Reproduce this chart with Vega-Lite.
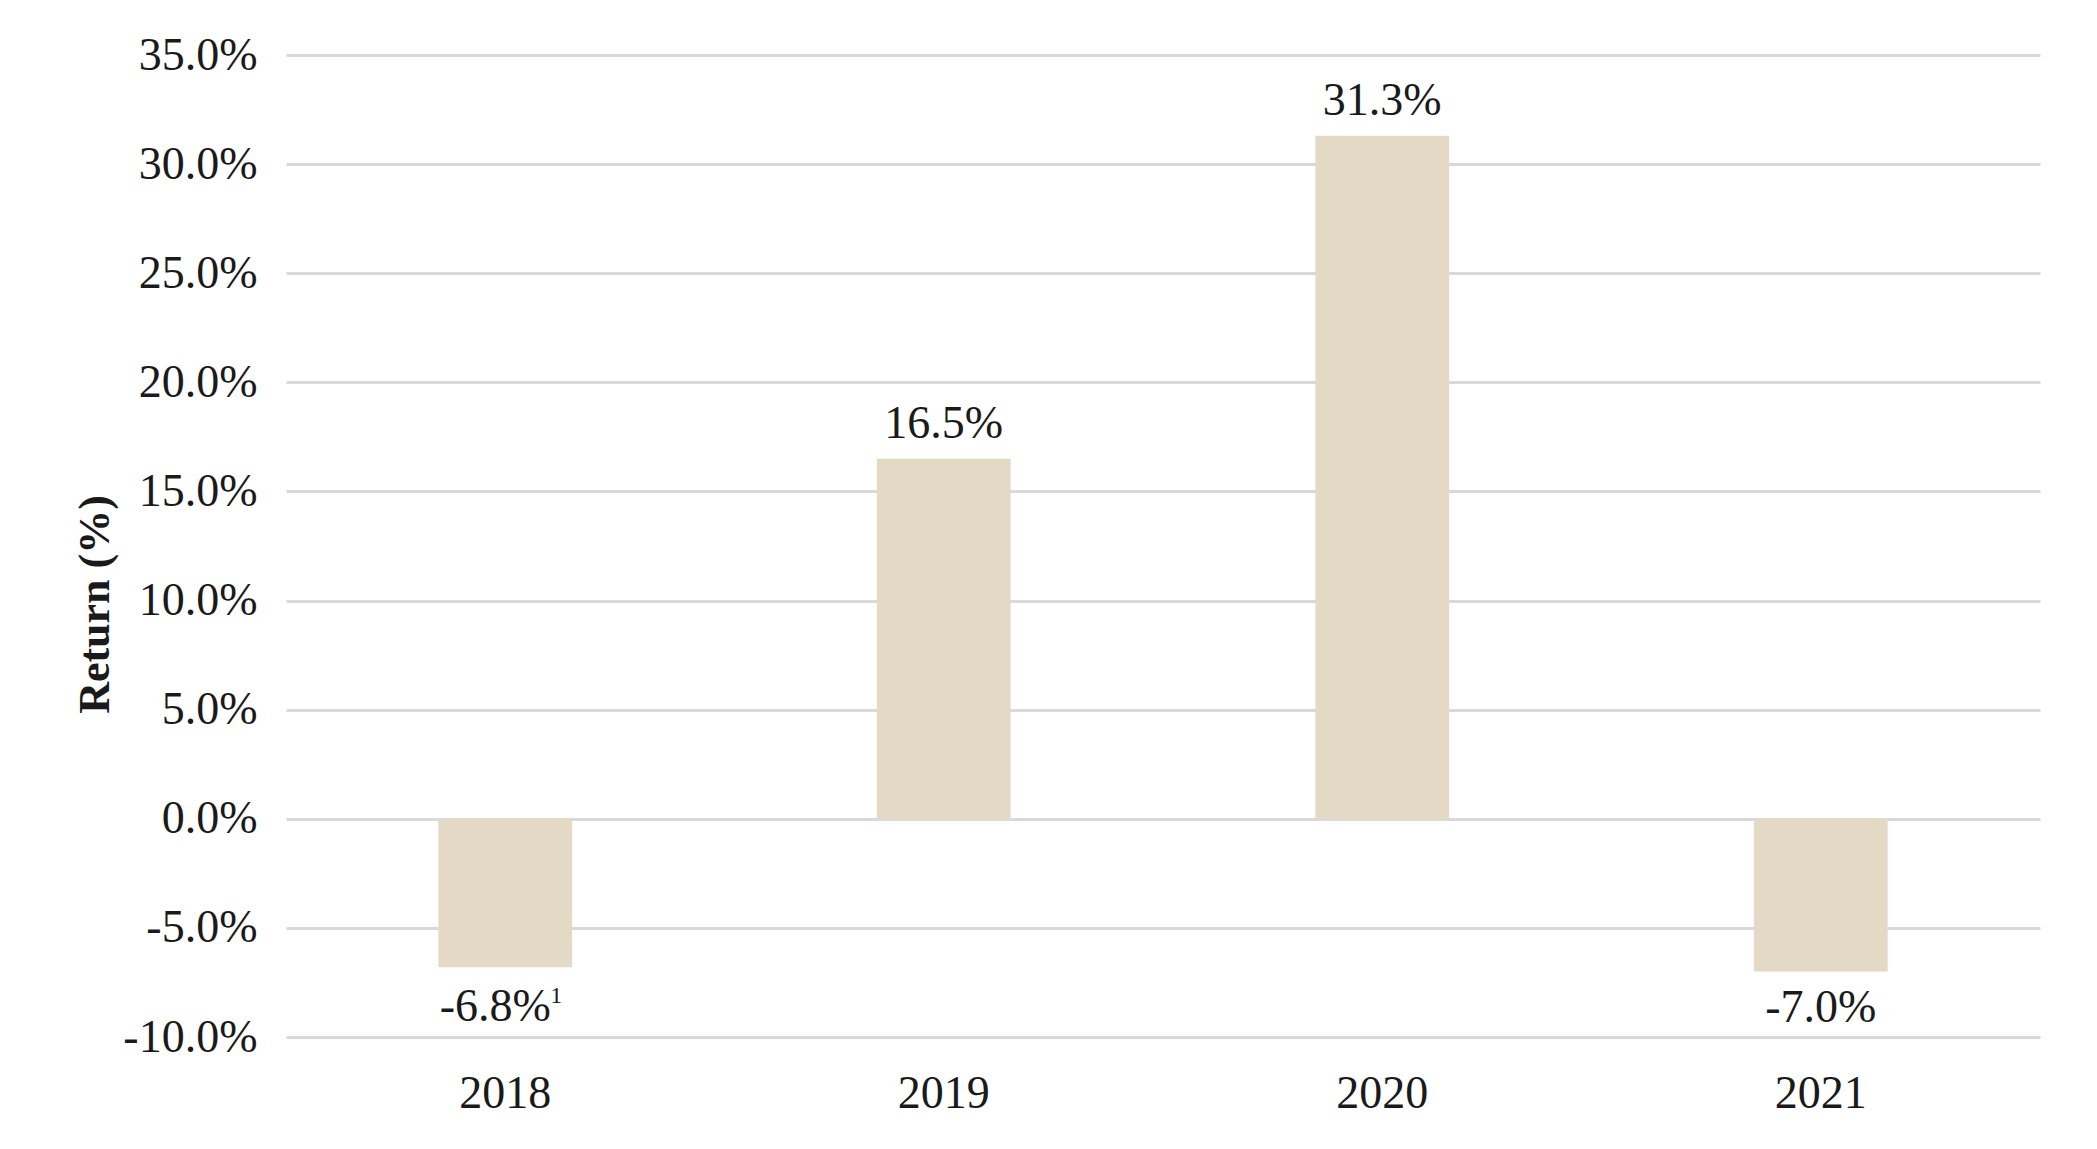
{
  "$schema": "https://vega.github.io/schema/vega-lite/v6.json",
  "autosize": {"type": "none"},
  "width": 1754,
  "height": 982,
  "padding": {"left": 286, "top": 55, "right": 57, "bottom": 112},
  "background": "white",
  "data": {"values": [
    {"year": "2018", "ret": -6.8, "label": "-6.8%", "note": "1"},
    {"year": "2019", "ret": 16.5, "label": "16.5%", "note": ""},
    {"year": "2020", "ret": 31.3, "label": "31.3%", "note": ""},
    {"year": "2021", "ret": -7.0, "label": "-7.0%", "note": ""}
  ]},
  "encoding": {
    "x": {
      "field": "year", "type": "nominal", "sort": null,
      "scale": {"paddingInner": 0.695, "paddingOuter": 0.3475},
      "axis": {"title": null, "labelAngle": 0, "domain": false, "ticks": false, "grid": false,
               "labelFont": "Liberation Serif", "labelFontSize": 46, "labelColor": "#1a1a1a",
               "labelBaseline": "middle", "labelPadding": 56}
    },
    "y": {
      "field": "ret", "type": "quantitative",
      "scale": {"domain": [-10, 35], "nice": false, "zero": false},
      "axis": {"values": [-10, -5, 0, 5, 10, 15, 20, 25, 30, 35],
               "labelExpr": "(datum.value < 0 ? '-' : '') + format(abs(datum.value), '.1f') + '%'",
               "grid": true, "gridColor": "#D9D9D9", "gridWidth": 3,
               "domain": false, "ticks": false, "labelPadding": 29,
               "labelFont": "Liberation Serif", "labelFontSize": 46, "labelColor": "#1a1a1a",
               "title": "Return (%)", "titleFont": "Liberation Serif", "titleFontSize": 44,
               "titleFontWeight": "bold", "titleColor": "#1a1a1a",
               "titleAngle": -90, "titleX": -191, "titleY": 549,
               "titleAlign": "center", "titleBaseline": "middle"}
    }
  },
  "layer": [
    {"mark": {"type": "bar", "color": "#E3D9C5"}},
    {
      "transform": [{"filter": "datum.ret >= 0"}],
      "mark": {"type": "text", "baseline": "alphabetic", "align": "center", "dy": -21,
               "font": "Liberation Serif", "fontSize": 46, "color": "#1a1a1a"},
      "encoding": {"text": {"field": "label"}}
    },
    {
      "transform": [{"filter": "datum.ret < 0 && datum.note == ''"}],
      "mark": {"type": "text", "baseline": "alphabetic", "align": "center", "dy": 50,
               "font": "Liberation Serif", "fontSize": 46, "color": "#1a1a1a"},
      "encoding": {"text": {"field": "label"}}
    },
    {
      "transform": [{"filter": "datum.ret < 0 && datum.note != ''"}],
      "mark": {"type": "text", "baseline": "alphabetic", "align": "center", "dy": 54, "dx": -10,
               "font": "Liberation Serif", "fontSize": 46, "color": "#1a1a1a"},
      "encoding": {"text": {"field": "label"}}
    },
    {
      "transform": [{"filter": "datum.note != ''"}],
      "mark": {"type": "text", "baseline": "alphabetic", "align": "center", "dy": 36, "dx": 51,
               "font": "Liberation Serif", "fontSize": 24, "color": "#1a1a1a"},
      "encoding": {"text": {"field": "note"}}
    }
  ],
  "config": {"view": {"stroke": null}}
}
